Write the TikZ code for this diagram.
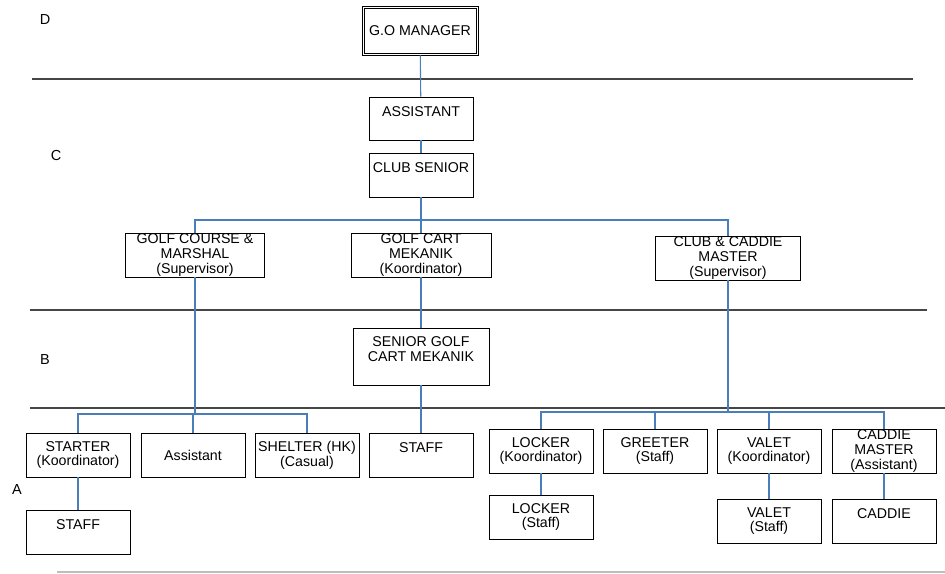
\documentclass[tikz,border=0pt]{standalone}
\usepackage{fontspec}
\usetikzlibrary{calc}
\setmainfont{Liberation Sans}
\definecolor{linkblue}{RGB}{74,126,187}
\definecolor{sepgray}{RGB}{70,70,70}
\definecolor{lightsep}{RGB}{190,190,190}
\tikzset{
  box/.style={draw, line width=0.9pt, align=center, inner sep=0pt,
    minimum width=104pt, minimum height=44pt,
    font=\fontsize{14.2}{14.8}\selectfont},
  conn/.style={draw=linkblue, line width=1.1pt},
  sepline/.style={draw=sepgray, line width=1.4pt},
  level/.style={font=\fontsize{14.5}{16}\selectfont}
}
\begin{document}
\begin{tikzpicture}[x=1pt,y=-1pt]
\useasboundingbox (0,0) rectangle (945,573);
% level lines
\draw[sepline] (32,79) -- (913,79);
\draw[sepline] (30,310) -- (927,310);
\draw[sepline] (30,408) -- (945,408);
\draw[draw=lightsep, line width=1.2pt] (57,572) -- (945,572);
\node[level] (lvD) at (45,20) {D};
\node[level] (lvC) at (56,156) {C};
\node[level] (lvB) at (45,360) {B};
\node[level] (lvA) at (17,490) {A};
% top
\node[box, minimum width=116pt, minimum height=49pt] (gom) at (420,30.5) {G.O MANAGER};
\draw[line width=0.9pt] ($(gom.north west)+(2.5,2.5)$) rectangle ($(gom.south east)+(-2.5,-2.5)$);
\node[box, minimum height=43pt] (asst) at (421,118.5) {ASSISTANT\\~};
\node[box] (club) at (421,175) {CLUB SENIOR\\~};
\node[box, minimum width=139pt] (gcm) at (195,255) {GOLF COURSE \&\\MARSHAL\\(Supervisor)};
\node[box, minimum width=140pt] (gcart) at (421,255) {GOLF CART\\MEKANIK\\(Koordinator)};
\node[box, minimum width=145pt] (ccm) at (728,258) {CLUB \& CADDIE\\MASTER\\(Supervisor)};
\node[box, minimum width=136pt, minimum height=57pt] (sgcm) at (421,356.5) {SENIOR GOLF\\CART MEKANIK\\~};
\node[box] (staffm) at (421,455) {STAFF\\~};
% left group
\node[box] (starter) at (78,455) {STARTER\\(Koordinator)};
\node[box] (assistant) at (193,455) {Assistant};
\node[box] (shelter) at (307,455) {SHELTER (HK)\\(Casual)};
\node[box] (staffa) at (78,532) {STAFF\\~};
% right group
\node[box] (lockk) at (541,451) {LOCKER\\(Koordinator)};
\node[box] (greeter) at (655,451) {GREETER\\(Staff)};
\node[box] (valetk) at (769,451) {VALET\\(Koordinator)};
\node[box] (cmast) at (884,451) {CADDIE\\MASTER\\(Assistant)};
\node[box] (lockst) at (541,517) {LOCKER\\(Staff)};
\node[box] (valets) at (769,521) {VALET\\(Staff)};
\node[box] (caddie) at (884,521) {CADDIE\\~};
% connectors
\coordinate (barC) at (421,220);
\coordinate (barL) at (195,414);
\coordinate (barR) at (728,412);
\draw[conn] (gom) -- (asst);
\draw[conn] (asst) -- (club);
\draw[conn] (club) -- (gcart);
\draw[conn] (gcm.north) |- (barC) -| (ccm.north);
\draw[conn] (gcart) -- (sgcm);
\draw[conn] (sgcm) -- (staffm);
\draw[conn] (gcm.south) -- (barL);
\draw[conn] (starter.north) |- (barL) -| (shelter.north);
\draw[conn] (assistant.north) -- (assistant.north |- barL);
\draw[conn] (starter) -- (staffa);
\draw[conn] (ccm.south) -- (barR);
\draw[conn] (lockk.north) |- (barR) -| (cmast.north);
\draw[conn] (greeter.north) -- (greeter.north |- barR);
\draw[conn] (valetk.north) -- (valetk.north |- barR);
\draw[conn] (lockk) -- (lockst);
\draw[conn] (valetk) -- (valets);
\draw[conn] (cmast) -- (caddie);
\end{tikzpicture}
\end{document}
